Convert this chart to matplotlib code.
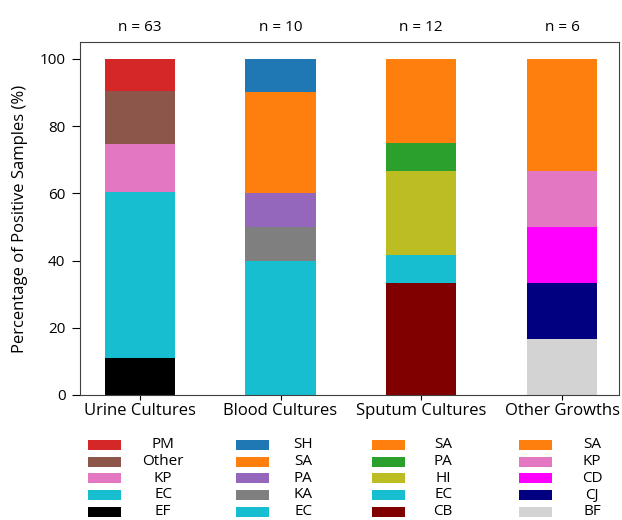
import matplotlib.pyplot as plt
from matplotlib.patches import Rectangle

plt.rcParams['font.family'] = ['Open Sans', 'DejaVu Sans']

# sample groups and their isolate counts (bottom -> top)
groups = ['Urine Cultures', 'Blood Cultures', 'Sputum Cultures', 'Other Growths']
n_totals = [63, 10, 12, 6]

urine_labels = ['EF', 'EC', 'KP', 'Other', 'PM']
urine_counts = [7, 31, 9, 10, 6]
blood_labels = ['EC', 'KA', 'PA', 'SA', 'SH']
blood_counts = [4, 1, 1, 3, 1]
sputum_labels = ['CB', 'EC', 'HI', 'PA', 'SA']
sputum_counts = [4, 1, 3, 1, 3]
other_labels = ['BF', 'CJ', 'CD', 'KP', 'SA']
other_counts = [1, 1, 1, 1, 2]

colors = {'PM': 'tab:red', 'Other': 'tab:brown', 'KP': 'tab:pink', 'EC': 'tab:cyan',
          'EF': 'black', 'SH': 'tab:blue', 'SA': 'tab:orange', 'PA': 'tab:purple',
          'KA': 'tab:gray', 'HI': 'tab:olive', 'CB': '#800000', 'CD': 'magenta',
          'CJ': 'navy', 'BF': 'lightgray'}
sputum_colors = {'PA': 'tab:green'}

all_labels = [urine_labels, blood_labels, sputum_labels, other_labels]
all_counts = [urine_counts, blood_counts, sputum_counts, other_counts]

fig = plt.figure(figsize=(6.22, 5.2), dpi=100)
ax = fig.add_axes([80 / 622, 125 / 520, 539 / 622, 353 / 520])

legend_x = [88, 236, 372, 519]   # handle left edge, px
text_x = [163, 303, 443, 592]    # label centre, px
row_y = [445, 461.7, 478.4, 495, 511.7]

for i, (labs, cnts) in enumerate(zip(all_labels, all_counts)):
    bottom = 0
    for lab, c in zip(labs, cnts):
        pct = 100 * c / n_totals[i]
        col = sputum_colors.get(lab, colors[lab]) if i == 2 else colors[lab]
        ax.bar(i, pct, 0.5, bottom=bottom, color=col)
        bottom += pct
    ax.text(i, 1.04, 'n = %d' % n_totals[i], transform=ax.get_xaxis_transform(),
            ha='center', va='center', fontsize=11)
    # legend column, top entry first
    for r, lab in enumerate(labs[::-1]):
        col = sputum_colors.get(lab, colors[lab]) if i == 2 else colors[lab]
        y = 1 - row_y[r] / 520
        fig.patches.append(Rectangle((legend_x[i] / 622, y - 5 / 520), 33 / 622, 10 / 520,
                                     transform=fig.transFigure, facecolor=col,
                                     edgecolor='none'))
        fig.text(text_x[i] / 622, y, lab, ha='center', va='center', fontsize=11)

ax.set_xlim(-0.425, 3.405)
ax.set_ylim(0, 105)
ax.set_xticks(range(len(groups)))
ax.set_xticklabels(groups, fontsize=12)
ax.tick_params(axis='x', pad=2)
ax.tick_params(axis='y', labelsize=11, length=5.5, pad=5)
ax.set_ylabel('Percentage of Positive Samples (%)', fontsize=12, labelpad=8)
for s in ax.spines.values():
    s.set_color('#404040')

fig.savefig('out.png', dpi=100)
